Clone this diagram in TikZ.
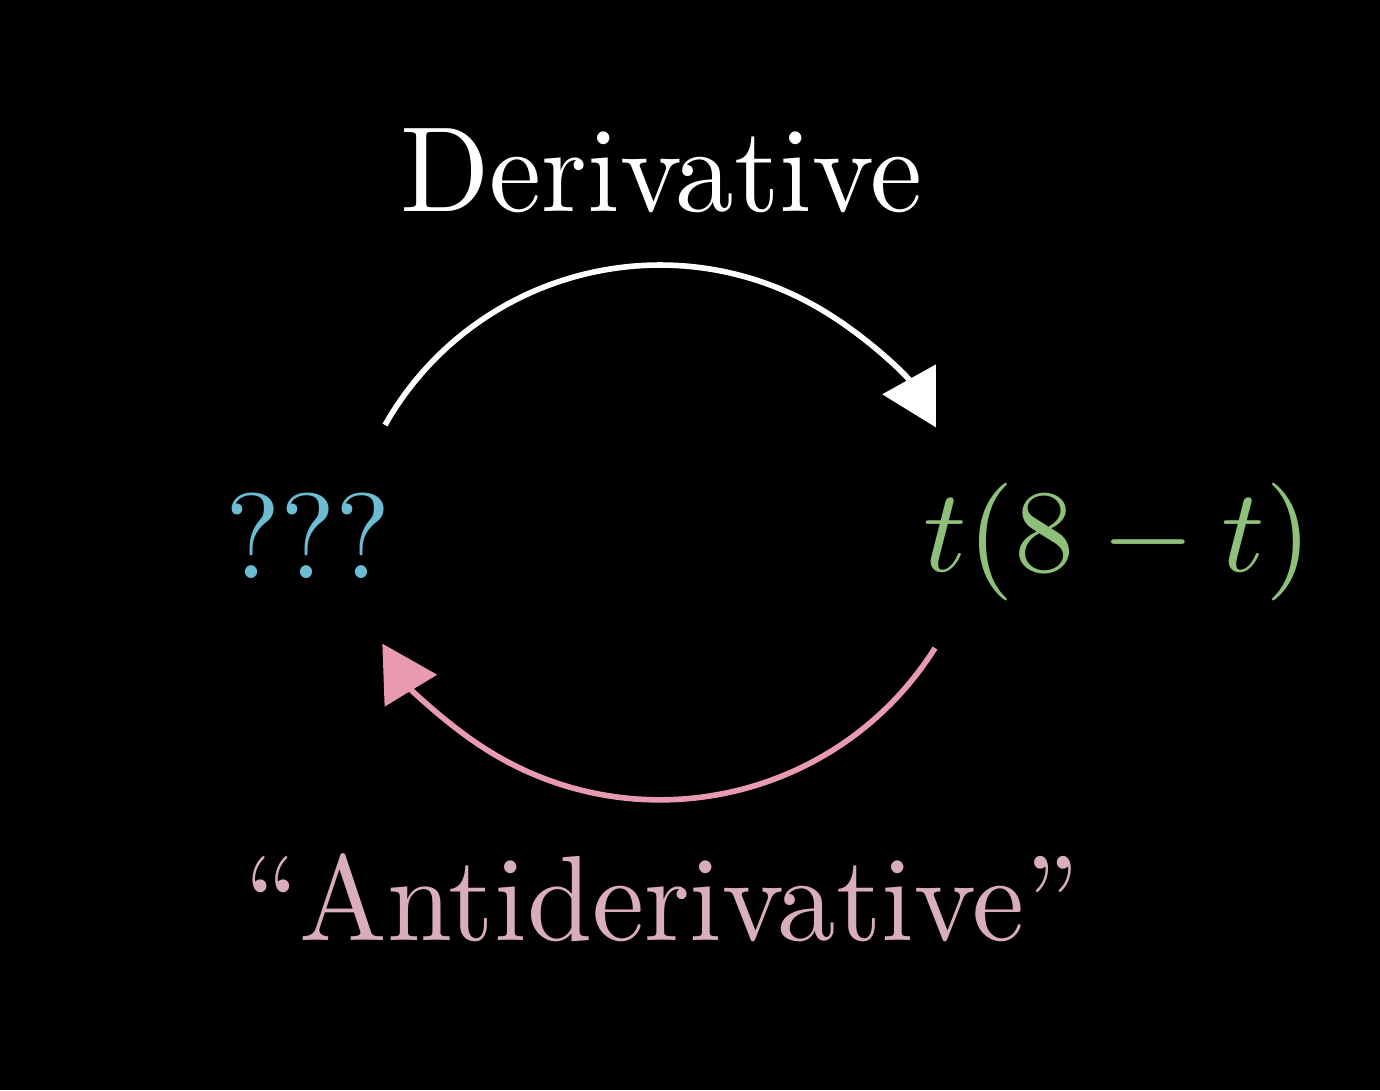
\documentclass[tikz,border=0pt]{standalone}
\usetikzlibrary{arrows.meta}
\definecolor{qblue}{HTML}{6CBCD2}
\definecolor{fgreen}{HTML}{8FC07A}
\definecolor{apink}{HTML}{E89AB0}
\definecolor{tpink}{HTML}{D9AEBA}
% text set at 10pt and blown up, so it keeps the 10pt design
\newcommand{\bigword}[1]{\scalebox{3.33}[3.45]{#1}}
\newcommand{\bigmath}[1]{\scalebox{3.43}[3.35]{#1}}
\tikzset{
	label/.style={inner sep=0pt, font=\normalsize},
	loop/.style={line width=1.6pt, -{Triangle[length=0.55cm, width=0.6cm]}}
}
\begin{document}
\begin{tikzpicture}
	\fill[black] (0,0) rectangle (13.8,10.9);
	\useasboundingbox (0,0) rectangle (13.8,10.9);
	\node[label, white] (deriv) at (6.615,9.19) {\bigword{Derivative}};
	\node[label, qblue] (unknown) at (3.08,5.54) {\bigword{???}};
	\node[label, fgreen] (func) at (11.18,5.48) {\bigmath{$t(8-t)$}};
	\node[label, tpink] (antideriv) at (6.62,1.92) {\bigword{``Antiderivative''}};
	\coordinate (dstart) at (3.85,6.65);
	\coordinate (astart) at (9.35,4.42);
	\draw[loop, white] (dstart) arc[start angle=150.4, end angle=29.1, radius=3.16];
	\draw[loop, apink] (astart) arc[start angle=-32.2, end angle=-148.7, radius=3.25];
\end{tikzpicture}
\end{document}
